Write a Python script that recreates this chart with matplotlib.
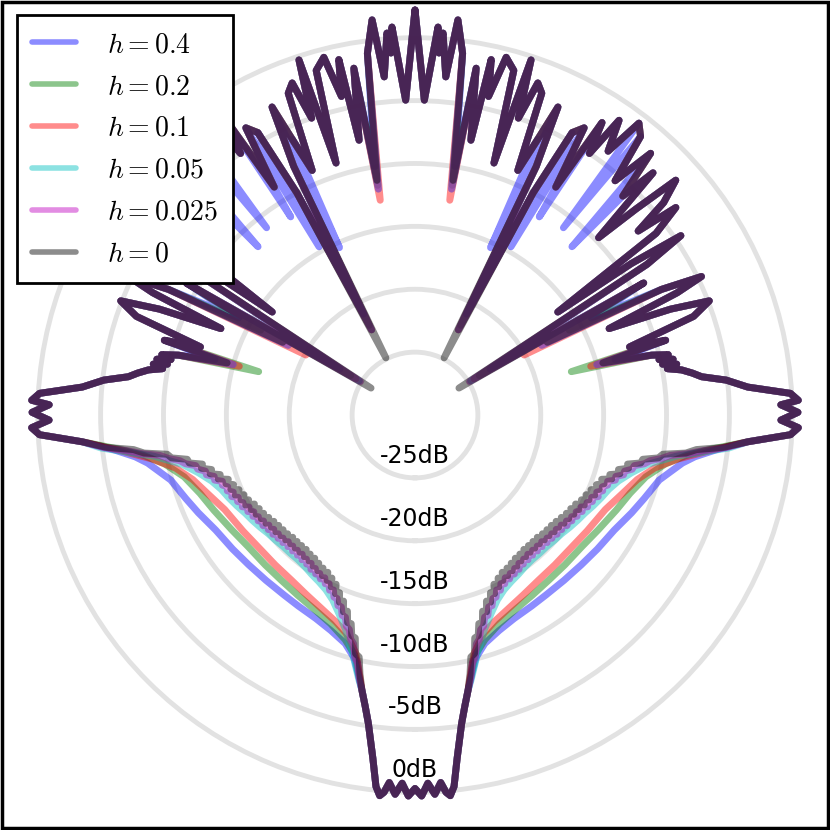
import numpy as np
import matplotlib.pyplot as plt
from matplotlib.patches import Rectangle

plt.rcParams['mathtext.fontset'] = 'cm'

# series
labels = ['$h=0.4$', '$h=0.2$', '$h=0.1$', '$h=0.05$', '$h=0.025$', '$h=0$']
colors = ['b', 'g', 'r', 'c', 'm', 'k']

# radial rings
ring_db = [-25, -20, -15, -10, -5, 0]
ring_labels = ['-25dB', '-20dB', '-15dB', '-10dB', '-5dB', '0dB']

# main beam, common to all series (angle from broadside, degrees)
beam_deg = [0.0, 1.0, 2.0, 3.0, 4.0, 4.7, 5.3, 6.0, 7.0, 8.6, 9.7, 10.9]
beam_db = [-0.3, 0.3, -0.7, 0.2, -0.7, 0.1, 0.4, -0.3, -2.5, -5.2, -6.5, -7.7]

# shoulder, per series
sh_deg_04 = [12.5, 14.1, 17.0, 21.3, 26.0, 31.4, 36.0, 42.0, 48.0, 53.7, 60.0, 65.7, 70.0, 75.1, 79.8, 81.5, 83.4]
sh_db_04 = [-9.0, -10.1, -11.0, -11.6, -12.0, -12.2, -12.3, -12.3, -12.2, -12.0, -11.7, -11.1, -10.6, -9.9, -8.4, -7.5, -5.9]

sh_deg_02 = [12.5, 14.0, 17.3, 22.0, 27.4, 33.0, 39.0, 45.0, 51.7, 58.0, 64.7, 70.0, 75.0, 79.0, 81.5, 83.5]
sh_db_02 = [-9.1, -10.3, -11.3, -12.1, -12.6, -12.9, -13.1, -13.15, -13.1, -12.8, -12.3, -11.8, -11.0, -9.7, -8.2, -6.2]

sh_deg_01 = [12.5, 14.0, 17.5, 21.0, 25.7, 31.0, 36.9, 43.0, 50.0, 56.0, 63.6, 69.0, 73.8, 77.5, 80.5, 83.0]
sh_db_01 = [-9.3, -10.5, -11.8, -12.4, -12.9, -13.3, -13.6, -13.7, -13.7, -13.5, -13.1, -12.4, -11.6, -10.5, -8.8, -6.5]

sh_deg_005 = [12.0, 15.0, 18.0, 21.0, 24.0, 27.0, 30.0, 33.0, 36.0, 39.0, 42.0, 45.0, 48.0, 51.0, 54.0,
              57.0, 60.0, 63.0, 66.0, 69.0, 72.0, 75.0, 78.0, 81.0, 84.0]
sh_db_005 = [-8.5, -10.6, -12.1, -13.1, -13.9, -14.4, -14.7, -14.9, -15.1, -15.2, -15.2, -15.2, -15.1, -15.0, -14.8,
             -14.6, -14.4, -14.1, -13.8, -13.5, -13.0, -12.2, -11.1, -9.0, -4.9]

rip_deg = [12, 13, 14, 15, 16, 17, 18, 19, 20, 21, 22, 23, 24, 25, 26, 27, 28, 29, 30, 31, 32, 33, 34, 35,
           36, 37, 38, 39, 40, 41, 42, 43, 44, 45, 46, 47, 48, 49, 50, 51, 52, 53, 54, 55, 56, 57, 58, 59,
           60, 61, 62, 63, 64, 65, 66, 67, 68, 69, 70, 71, 72, 73, 74, 75, 76, 77, 78, 79, 80, 81, 82, 83, 84]
sh_db_0025 = [-8.65, -9.75, -10.15, -11.15, -11.45, -12.15, -12.35, -13.0, -13.05, -13.65, -13.65, -14.15,
              -14.15, -14.65, -14.5, -14.95, -14.8, -15.2, -14.95, -15.3, -15.1, -15.45, -15.2, -15.6,
              -15.35, -15.65, -15.4, -15.75, -15.45, -15.75, -15.45, -15.75, -15.45, -15.75, -15.4, -15.65,
              -15.35, -15.6, -15.25, -15.55, -15.2, -15.45, -15.05, -15.3, -14.95, -15.15, -14.8, -15.05,
              -14.65, -14.9, -14.45, -14.65, -14.3, -14.5, -14.05, -14.3, -13.9, -14.05, -13.7, -13.8,
              -13.25, -13.3, -12.75, -12.75, -12.2, -12.1, -11.35, -10.95, -10.1, -9.45, -8.0, -6.85, -5.15]
sh_db_0 = [-8.95, -10.25, -10.45, -11.65, -11.75, -12.65, -12.65, -13.5, -13.35, -14.15, -13.95, -14.65,
           -14.45, -15.15, -14.8, -15.45, -15.1, -15.7, -15.25, -15.8, -15.4, -15.95, -15.5, -16.1,
           -15.65, -16.15, -15.7, -16.25, -15.75, -16.25, -15.75, -16.25, -15.75, -16.25, -15.7, -16.15,
           -15.65, -16.1, -15.55, -16.05, -15.5, -15.95, -15.35, -15.8, -15.25, -15.65, -15.1, -15.55,
           -14.95, -15.4, -14.75, -15.15, -14.6, -15.0, -14.35, -14.8, -14.2, -14.55, -14.0, -14.3,
           -13.55, -13.8, -13.05, -13.25, -12.5, -12.65, -11.65, -11.55, -10.35, -10.05, -8.25, -7.45, -5.35]

# sidelobes, common to all series (h=0 values)
side_deg = [85.4, 87.0, 88.1, 89.2, 90.4, 91.6, 92.2, 93.3, 94.8, 96.4, 97.6, 98.6, 99.6, 100.4,
            101.0, 101.6, 102.2, 102.8, 103.4, 104.2, 105.5, 106.6, 107.6, 109.5, 111.2, 112.5, 114.0,
            115.0, 115.8, 117.0, 118.8, 120.0, 121.5, 123.0, 124.0, 125.0, 125.8, 127.0, 128.5, 129.5,
            130.5, 132.0, 133.0, 134.0, 135.5, 136.5, 138.0, 139.5, 141.0, 142.5, 143.8, 145.3, 146.3,
            147.4, 148.3, 149.5, 150.9, 152.0, 153.0, 154.0, 155.1, 156.0, 157.2, 158.5, 159.7, 160.8,
            161.9, 162.6, 164.0, 165.7, 167.0, 167.9, 168.5, 170.0, 170.8, 172.5, 173.8, 174.8, 175.8,
            176.2, 176.6, 178.3, 180.0]
side_db = [-3.45, -0.1, 0.5, -0.9, 0.45, -0.9, 0.5, -0.1, -3.45, -5.1, -7.0, -7.7, -8.5, -9.6,
           -8.8, -9.9, -9.0, -10.1, -9.3, -10.6, -14.5, -9.2, -12.1, -6.5, -4.9, -8.0, -13.1,
           -7.0, -4.7, -8.0, -18.0, -9.0, -25.9, -8.0, -4.5, -9.0, -16.0, -6.0, -3.5, -7.0,
           -4.0, -2.1, -6.0, -9.7, -3.0, -6.0, -2.0, -5.5, -1.5, -0.75, -4.0, -1.5, -5.0,
           -2.4, -8.7, -3.5, -4.3, -10.0, -24.9, -8.0, -3.0, -6.0, -8.9, -2.5, -1.85, -5.0,
           -0.3, -9.0, -1.5, -0.65, -4.0, -1.1, -7.7, -2.0, -11.1, -1.0, 1.6, -3.0, 0.45,
           -1.15, 0.9, -4.95, 2.2]

# null depths that differ between series
null_deg = [105.5, 118.8, 121.5, 153.0, 170.8]
null_db_04 = [-13.5, -14.0, -23.0, -21.0, -10.0]
null_db_02 = [-17.1, -16.0, -24.0, -22.0, -11.5]
null_db_01 = [-15.5, -20.1, -24.5, -22.4, -12.7]
null_db_005 = [-15.0, -18.5, -24.8, -22.4, -11.8]
null_db_0025 = [-15.0, -18.5, -24.9, -22.4, -11.8]
null_db_0 = [-14.5, -18.0, -25.9, -24.9, -11.1]

# extra dips seen only on h=0.4
extra_deg_04 = [137.0, 141.6, 147.9, 150.3, 155.7]
extra_db_04 = [-11.7, -11.0, -11.4, -14.6, -15.4]

shoulders = [(sh_deg_04, sh_db_04), (sh_deg_02, sh_db_02), (sh_deg_01, sh_db_01),
             (sh_deg_005, sh_db_005), (rip_deg, sh_db_0025), (rip_deg, sh_db_0)]
nulls = [null_db_04, null_db_02, null_db_01, null_db_005, null_db_0025, null_db_0]
extras = [(extra_deg_04, extra_db_04), ([], []), ([], []), ([], []), ([], []), ([], [])]

fig = plt.figure(figsize=(8.3, 8.3), dpi=100)
ax = fig.add_axes([0, 0, 1, 1], projection='polar')
ax.set_theta_zero_location('S')

for lab, col, (sd, sb), nb, (ed, eb) in zip(labels, colors, shoulders, nulls, extras):
    pts = dict(zip(beam_deg, beam_db))
    pts.update(zip(sd, sb))
    pts.update(zip(side_deg, side_db))
    pts.update(zip(null_deg, nb))
    pts.update(zip(ed, eb))
    d = np.array(sorted(pts), dtype=float)
    v = np.array([pts[k] for k in sorted(pts)])
    th = np.deg2rad(np.concatenate([-d[::-1], d[1:]]))
    r = np.concatenate([v[::-1], v[1:]])
    ax.plot(th, r, color=col, lw=5, alpha=0.45, label=lab,
            solid_joinstyle='round', solid_capstyle='round')

ax.set_ylim(-30, 3)
ax.set_yticks(ring_db)
ax.set_yticklabels([])
ax.set_xticks([])
ax.yaxis.grid(True, color='#e2e2e2', lw=3.5)
ax.spines['polar'].set_visible(False)
for v, t in zip(ring_db, ring_labels):
    ax.text(0, v - 1.75, t, ha='center', va='center', fontsize=17)

leg = ax.legend(loc='upper left', bbox_to_anchor=(0.02, 0.982), borderaxespad=0,
                fontsize=20, fancybox=False, framealpha=1, edgecolor='k',
                handlelength=1.6, handletextpad=1.1, labelspacing=0.5, borderpad=0.55)
leg.get_frame().set_linewidth(2)
for ln in leg.get_lines():
    ln.set_linewidth(4)

fig.patches.append(Rectangle((0.002, 0.002), 0.996, 0.996, transform=fig.transFigure,
                             fill=False, edgecolor='k', lw=2.5))

fig.savefig('out.png', dpi=100)
